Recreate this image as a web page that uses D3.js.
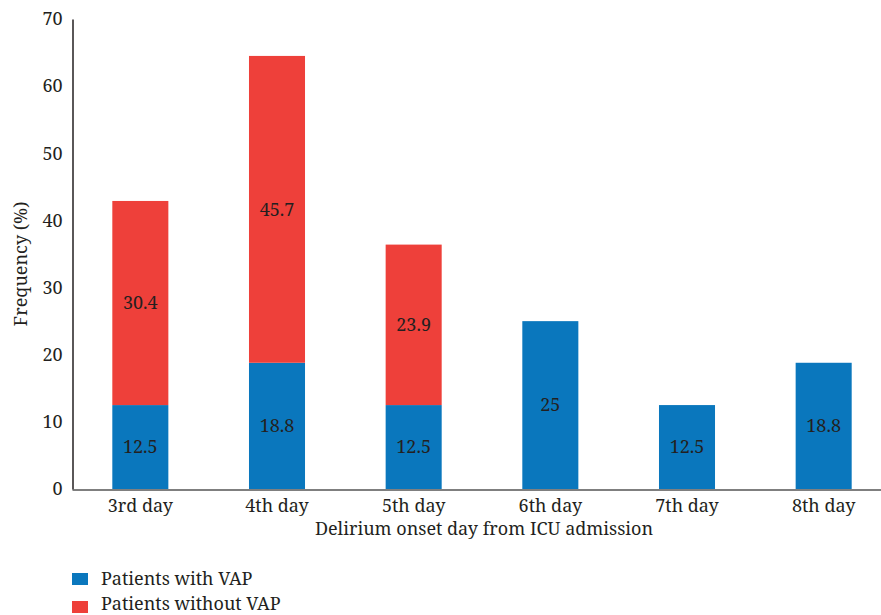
<!DOCTYPE html>
<html><head><meta charset="utf-8">
<script src="https://cdn.jsdelivr.net/npm/d3@7"></script>
<style>body{margin:0;background:#fff}svg{display:block}</style>
</head><body><svg id="c" width="881" height="615"></svg>
<script>
const categories = ["3rd day","4th day","5th day","6th day","7th day","8th day"];
const withVAP = [12.5, 18.8, 12.5, 25, 12.5, 18.8];
const withoutVAP = [30.4, 45.7, 23.9, 0, 0, 0];
const yTicks = [0,10,20,30,40,50,60,70];
const seriesNames = ["Patients with VAP","Patients without VAP"];
const colors = ["#0a77bd","#ee403a"];

const FONT = "'Noto Serif','Liberation Serif',serif";
const FS = 18;
const TXT = "#231f20";

const svg = d3.select("#c");
const x = d3.scaleBand().domain(categories).range([72, 892]).paddingInner(0.59).paddingOuter(0.295);
const y = d3.scaleLinear().domain([0,70]).range([489, 19]);

const data = categories.map((c,i)=>({cat:c, a:withVAP[i], b:withoutVAP[i]}));
const stack = d3.stack().keys(["a","b"])(data);

stack.forEach((s,k)=>{
  const segs = s.filter(d=>d[1]-d[0]>0);
  svg.append("g").selectAll("rect").data(segs).join("rect")
    .attr("x", d=>x(d.data.cat)).attr("width", x.bandwidth())
    .attr("y", d=>y(d[1])).attr("height", d=>y(d[0])-y(d[1]))
    .attr("fill", colors[k]);
  svg.append("g").selectAll("text").data(segs).join("text")
    .attr("x", d=>x(d.data.cat)+x.bandwidth()/2)
    .attr("y", d=>y((d[0]+d[1])/2)).attr("dy","0.35em")
    .attr("text-anchor","middle").attr("font-size",FS).attr("font-family",FONT).attr("fill",TXT)
    .text(d=>{const v=+(d[1]-d[0]).toFixed(1); return String(v);});
});

// y axis
const ya = svg.append("g").attr("transform","translate(72.5,0)")
  .call(d3.axisLeft(y).tickValues(yTicks).tickSize(0).tickPadding(10));
ya.select(".domain").attr("stroke","#231f20").attr("stroke-width",1.5);
ya.selectAll("text").attr("font-size",FS).attr("font-family",FONT).attr("fill",TXT);

// x axis
const xa = svg.append("g").attr("transform","translate(0,489.5)")
  .call(d3.axisBottom(x).tickSize(0).tickPadding(10));
xa.select(".domain").attr("stroke","#555").attr("stroke-width",1.5);
xa.selectAll("text").attr("font-size",FS).attr("font-family",FONT).attr("fill",TXT);

svg.append("text").attr("transform","translate(27,264) rotate(-90)")
  .attr("text-anchor","middle").attr("font-size",FS).attr("font-family",FONT).attr("fill",TXT).text("Frequency (%)");
svg.append("text").attr("x",484).attr("y",535)
  .attr("text-anchor","middle").attr("font-size",FS).attr("font-family",FONT).attr("fill",TXT).text("Delirium onset day from ICU admission");

const lg = svg.append("g");
seriesNames.forEach((n,i)=>{
  lg.append("rect").attr("x",72).attr("y",573+i*28).attr("width",16).attr("height",12).attr("fill",colors[i]);
  lg.append("text").attr("x",101).attr("y",585+i*25).attr("font-size",FS).attr("font-family",FONT).attr("fill",TXT).text(n);
});
</script></body></html>
